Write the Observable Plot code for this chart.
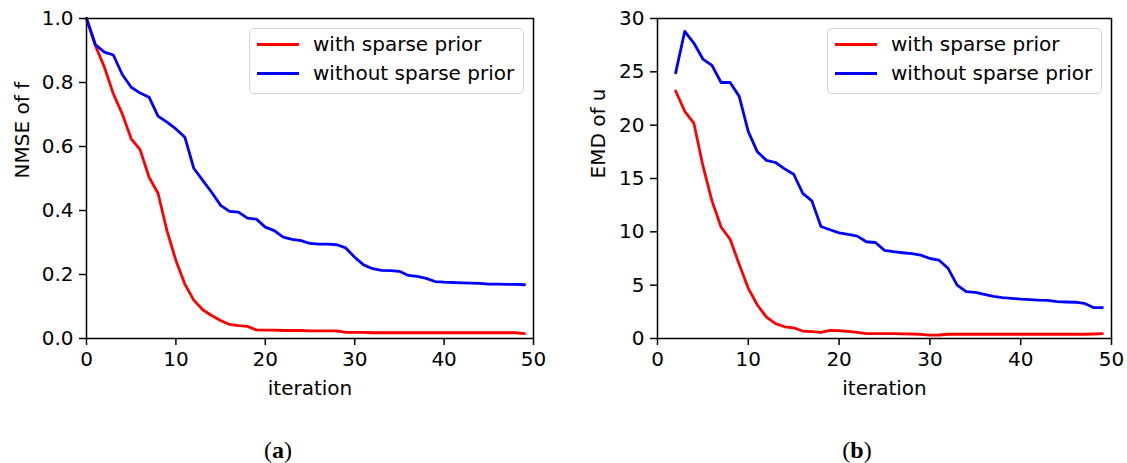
<!DOCTYPE html>
<html><head><meta charset="utf-8">
<script src="https://cdn.jsdelivr.net/npm/d3@7"></script>
<script src="https://cdn.jsdelivr.net/npm/@observablehq/plot@0.6"></script>
<style>
body{margin:0;background:#fff;}
#wrap{position:relative;width:1127px;height:463px;font-family:"DejaVu Sans";background:#fff;overflow:hidden;}
.plot{position:absolute;top:0;}
.legend{position:absolute;border:1.5px solid #d4d4d4;border-radius:5px;background:rgba(255,255,255,0.8);box-sizing:border-box;}
.row{position:absolute;left:0;height:20px;font:20px "DejaVu Sans";color:#000;white-space:nowrap;}
.swatch{position:absolute;height:3px;}
.row span{position:absolute;line-height:20px;top:-10px;}
.cap{position:absolute;font:24px "Liberation Serif",serif;color:#000;transform:translate(-50%,-50%);}
</style></head>
<body><div id="wrap"></div>
<script>
// ---- data ----
const itersA = [0,1,2,3,4,5,6,7,8,9,10,11,12,13,14,15,16,17,18,19,20,21,22,23,24,25,26,27,28,29,30,31,32,33,34,35,36,37,38,39,40,41,42,43,44,45,46,47,48,49];
const nmseWith = [1.0,0.915,0.848,0.765,0.702,0.624,0.59,0.504,0.454,0.337,
  0.244,0.17,0.12,0.09,0.072,0.056,0.044,0.04,0.038,0.027,
  0.026,0.026,0.025,0.025,0.025,0.024,0.024,0.024,0.024,0.019,
  0.019,0.019,0.018,0.018,0.018,0.018,0.018,0.018,0.018,0.018,
  0.018,0.018,0.018,0.018,0.018,0.018,0.018,0.018,0.018,0.015];
const nmseWithout = [1.0,0.918,0.895,0.886,0.825,0.785,0.767,0.754,0.695,0.676,
  0.655,0.629,0.532,0.494,0.457,0.416,0.397,0.395,0.376,0.373,
  0.348,0.337,0.317,0.31,0.306,0.297,0.295,0.295,0.293,0.283,
  0.254,0.23,0.218,0.213,0.212,0.21,0.197,0.194,0.188,0.178,
  0.176,0.175,0.174,0.173,0.172,0.17,0.17,0.169,0.169,0.168];
const itersB = [2,3,4,5,6,7,8,9,10,11,12,13,14,15,16,17,18,19,20,21,22,23,24,25,26,27,28,29,30,31,32,33,34,35,36,37,38,39,40,41,42,43,44,45,46,47,48,49];
const emdWith = [23.2,21.3,20.2,16.2,12.9,10.45,9.3,6.95,
  4.7,3.14,2.0,1.39,1.1,1.0,0.7,0.64,0.58,0.77,
  0.74,0.67,0.58,0.45,0.45,0.45,0.45,0.43,0.42,0.38,
  0.31,0.33,0.4,0.4,0.4,0.4,0.4,0.4,0.4,0.4,
  0.4,0.4,0.4,0.4,0.4,0.4,0.4,0.4,0.42,0.45];
const emdWithout = [24.9,28.8,27.7,26.2,25.6,24.0,24.0,22.7,
  19.4,17.5,16.7,16.5,15.9,15.4,13.6,12.9,10.5,10.2,
  9.9,9.76,9.6,9.07,9.0,8.26,8.14,8.04,7.95,7.82,
  7.5,7.34,6.58,5.0,4.39,4.33,4.14,3.95,3.83,3.77,
  3.7,3.65,3.6,3.57,3.45,3.42,3.4,3.3,2.9,2.9];
const xTicks = [0,10,20,30,40,50];
const yTicksA = [0,0.2,0.4,0.6,0.8,1.0];
const yTicksB = [0,5,10,15,20,25,30];
const seriesNames = ["with sparse prior","without sparse prior"];
const seriesColors = ["#ff0000","#0000ff"];
const captions = ["a","b"];

const wrap = document.getElementById("wrap");

function panel({left, width, marginLeft, marginRight, yDomain, yTicks, yFmt, yLabel, yLabelDx, xs, ys, legendLeft, legendWidth}) {
  const p = Plot.plot({
    width, height: 410,
    marginLeft, marginRight, marginTop: 18, marginBottom: 72,
    style: {fontFamily: "DejaVu Sans", fontSize: "20px", color: "#000", background: "transparent", overflow: "visible"},
    x: {domain: [0, 50], label: null},
    y: {domain: yDomain, label: null},
    marks: [
      Plot.line(ys[0], {x: xs, y: ys[0], stroke: seriesColors[0], strokeWidth: 2.8, strokeLinejoin: "round"}),
      Plot.line(ys[1], {x: xs, y: ys[1], stroke: seriesColors[1], strokeWidth: 2.8, strokeLinejoin: "round"}),
      Plot.frame({stroke: "#000", strokeWidth: 1.5}),
      Plot.axisX({ticks: xTicks, tickSize: 7, tickPadding: 6, tickFormat: d3.format("d"), fontSize: 20, strokeWidth: 1.5, label: null}),
      Plot.axisY({ticks: yTicks, tickSize: 7, tickPadding: 6, tickFormat: yFmt, fontSize: 20, strokeWidth: 1.5, label: null}),
      Plot.text(["iteration"], {frameAnchor: "bottom", lineAnchor: "middle", dy: 50, text: d => d, fontSize: 20}),
      Plot.text([yLabel], {frameAnchor: "left", dx: yLabelDx, rotate: -90, text: d => d, fontSize: 20})
    ]
  });
  p.classList.add("plot");
  p.style.left = left + "px";
  wrap.appendChild(p);
  // legend
  const lg = document.createElement("div");
  lg.className = "legend";
  lg.style.left = legendLeft + "px";
  lg.style.top = "28px";
  lg.style.width = legendWidth + "px";
  lg.style.height = "66px";
  seriesNames.forEach((name, i) => {
    const row = document.createElement("div");
    row.className = "row";
    row.style.top = (15 + i * 29) + "px";
    const sw = document.createElement("div");
    sw.className = "swatch";
    sw.style.left = "7px"; sw.style.width = "42px"; sw.style.top = "-1.5px";
    sw.style.background = seriesColors[i];
    const t = document.createElement("span");
    t.textContent = name;
    t.style.left = "63px";
    row.appendChild(sw); row.appendChild(t);
    lg.appendChild(row);
  });
  wrap.appendChild(lg);
}

panel({left: 0, width: 563, marginLeft: 86, marginRight: 30, yDomain: [0, 1], yTicks: yTicksA, yFmt: d3.format(".1f"),
  yLabel: "NMSE of f", yLabelDx: -64, xs: itersA, ys: [nmseWith, nmseWithout], legendLeft: 249, legendWidth: 275});
panel({left: 563, width: 564, marginLeft: 94, marginRight: 16, yDomain: [0, 30], yTicks: yTicksB, yFmt: d3.format("d"),
  yLabel: "EMD of u", yLabelDx: -59, xs: itersB, ys: [emdWith, emdWithout], legendLeft: 827, legendWidth: 275});

[[278, captions[0]], [857, captions[1]]].forEach(([cx, c]) => {
  const d = document.createElement("div");
  d.className = "cap";
  d.style.left = cx + "px"; d.style.top = "450px";
  d.innerHTML = "(<b>" + c + "</b>)";
  wrap.appendChild(d);
});
</script></body></html>
